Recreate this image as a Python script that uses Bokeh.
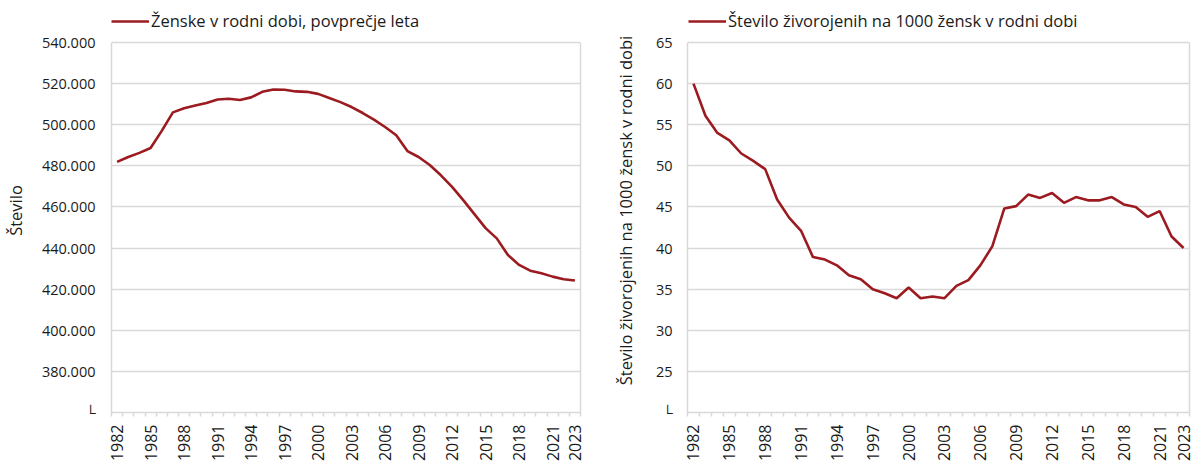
from math import pi
from bokeh.plotting import figure
from bokeh.models import FixedTicker, Legend, LegendItem, Range1d, LinearAxis
from bokeh.layouts import row
from bokeh.embed import file_html
from bokeh.resources import INLINE

years = list(range(1982, 2024))
women = [481900, 484300, 486300, 488700, 497000, 506000, 508000, 509300, 510600, 512300,
         512600, 512000, 513300, 516000, 517100, 517000, 516200, 516000, 515000, 513000,
         511000, 508600, 505700, 502500, 498900, 494900, 487200, 484300, 480400, 475400,
         469800, 463300, 456500, 449700, 444700, 436600, 431800, 429000, 427700, 426100,
         424800, 424200]
births = [60.0, 56.1, 54.0, 53.1, 51.5, 50.6, 49.6, 45.9, 43.7, 42.1,
          38.9, 38.6, 37.9, 36.7, 36.2, 35.0, 34.5, 33.9, 35.2, 33.9,
          34.1, 33.9, 35.4, 36.1, 37.9, 40.2, 44.8, 45.1, 46.5, 46.1,
          46.7, 45.5, 46.2, 45.8, 45.8, 46.2, 45.3, 45.0, 43.8, 44.5,
          41.4, 40.0]
tick_years = [1982, 1985, 1988, 1991, 1994, 1997, 2000, 2003, 2006, 2009,
              2012, 2015, 2018, 2021, 2023]
left_ticks = list(range(360000, 540001, 20000))
right_ticks = list(range(20, 66, 5))

left_title = "Število"
right_title = "Število živorojenih na 1000 žensk v rodni dobi"
left_legend = "Ženske v rodni dobi, povprečje leta"
right_legend = "Število živorojenih na 1000 žensk v rodni dobi"

FONT = "Open Sans"
RED = "#9B1B20"
GRID = "#D9D9D9"
TXT = "#1A1A1A"
BREAK = "└"
H = 464
TOP = 8          # frame reaches up to the legend row
BOTTOM = 52
PLOT_H = 370     # height of the gridded plot area (px)
HEAD = 34        # room above the top gridline for the legend (px)


def make(width, border_left, border_right, vals, yticks, overrides,
         ytitle, legend_label, legend_x, tick_standoff, title_standoff):
    ylo, yhi = yticks[0], yticks[-1]
    ytop = yhi + (yhi - ylo) * HEAD / PLOT_H
    p = figure(width=width, height=H, output_backend="svg", toolbar_location=None,
               x_range=Range1d(1981.5, 2023.5), y_range=Range1d(ylo, ytop),
               min_border_left=border_left, min_border_right=border_right,
               min_border_top=TOP, min_border_bottom=BOTTOM)
    p.outline_line_color = None
    r = p.line(years, vals, line_color=RED, line_width=2.6)

    p.xgrid.visible = False
    p.ygrid.ticker = FixedTicker(ticks=yticks)
    p.ygrid.grid_line_color = GRID
    p.ygrid.grid_line_width = 1.5

    xa = p.xaxis[0]
    xa.ticker = FixedTicker(ticks=tick_years,
                            minor_ticks=[y - 0.5 for y in years] + [years[-1] + 0.5])
    xa.major_label_orientation = pi / 2
    xa.major_tick_line_color = None
    xa.major_tick_out = 4
    xa.major_tick_in = 0
    xa.minor_tick_line_color = GRID
    xa.minor_tick_line_width = 1.5
    xa.minor_tick_out = 4
    xa.minor_tick_in = 0
    xa.axis_line_color = GRID
    xa.axis_line_width = 1.5
    xa.major_label_standoff = 8
    xa.major_label_text_font = FONT
    xa.major_label_text_font_size = "16px"
    xa.major_label_text_color = TXT

    ya = p.yaxis[0]
    ya.ticker = FixedTicker(ticks=yticks)
    ya.bounds = (ylo, yhi)
    ya.major_label_overrides = overrides
    ya.major_tick_line_color = None
    ya.major_tick_out = 0
    ya.major_tick_in = 0
    ya.minor_tick_line_color = None
    ya.axis_line_color = GRID
    ya.axis_line_width = 1.5
    ya.major_label_standoff = tick_standoff
    ya.major_label_text_font = FONT
    ya.major_label_text_font_size = "14.5px"
    ya.major_label_text_color = TXT
    ya.axis_label = ytitle
    ya.axis_label_text_font = FONT
    ya.axis_label_text_font_size = "16.5px"
    ya.axis_label_text_font_style = "normal"
    ya.axis_label_text_color = TXT
    ya.axis_label_standoff = title_standoff

    # right border of the plot area
    rb = LinearAxis(ticker=FixedTicker(ticks=[]), bounds=(ylo, yhi),
                    axis_line_color=GRID, axis_line_width=1.5,
                    major_tick_line_color=None, minor_tick_line_color=None,
                    major_tick_out=0, major_tick_in=0, minor_tick_out=0, minor_tick_in=0,
                    major_label_standoff=0, major_label_text_font_size="1px")
    p.add_layout(rb, "right")

    leg = Legend(items=[LegendItem(label=legend_label, renderers=[r])],
                 location=(legend_x, 380), orientation="horizontal",
                 padding=0, margin=0, border_line_color=None, background_fill_alpha=0,
                 glyph_width=38, glyph_height=20, label_standoff=2,
                 label_text_font=FONT, label_text_font_size="16.5px",
                 label_text_color=TXT)
    p.add_layout(leg)
    return p


lo = {v: f"{v:,}".replace(",", ".") for v in left_ticks}
lo[left_ticks[0]] = BREAK
ro = {v: str(v) for v in right_ticks}
ro[right_ticks[0]] = BREAK

p1 = make(600, 110, 20, women, left_ticks, lo, left_title,
          left_legend, 0, 16, 12)
p2 = make(595, 87, 6, births, right_ticks, ro, right_title,
          right_legend, 1, 15, 16)

layout = row(p1, p2)
open("out.html", "w").write(file_html(layout, INLINE))
